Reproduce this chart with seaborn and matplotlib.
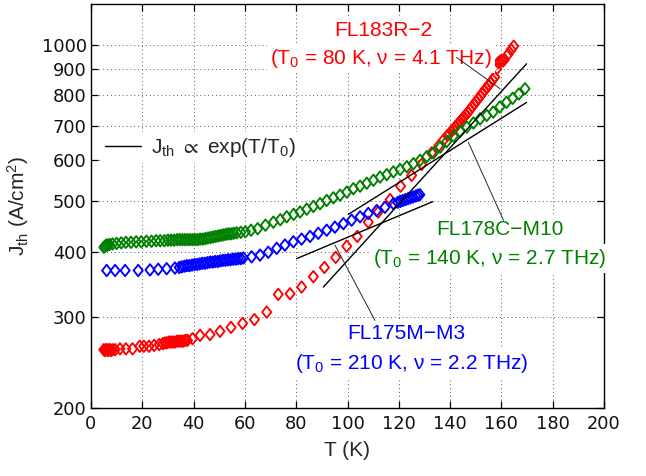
import matplotlib
matplotlib.use("Agg")
import matplotlib.pyplot as plt
from matplotlib.path import Path
from matplotlib.lines import Line2D
from matplotlib.ticker import NullLocator, FixedLocator
import numpy as np
import pandas as pd
import seaborn as sns

# ---- measured threshold current densities J_th (A/cm^2) vs heat-sink temperature T (K) ----
red_T = [5.0, 5.4, 5.8, 6.2, 6.6, 7.0, 7.4, 7.8, 8.4, 9.4,
         11.3, 13.6, 16.2,
         19.0, 20.6, 22.6, 24.6, 26.6,
         28.0, 28.8, 29.6, 30.4, 31.2, 32.0, 32.8, 33.6, 34.4, 35.2, 36.0, 36.8, 37.6,
         39.6, 42.5, 46.4, 50.3, 54.6, 59.1, 63.7, 68.5, 73.0, 77.6,
         82.1, 86.7, 91.0, 95.4, 99.7, 103.8, 108.1, 112.0, 116.6, 120.7,
         125.0, 128.9, 132.8, 135.6, 137.4, 139.0,
         139.8, 140.6, 141.4, 142.2, 143.0, 143.8, 144.6, 145.4, 146.2, 147.0,
         147.8, 148.6, 149.4, 150.2, 151.0, 151.8, 152.6, 153.4, 154.2, 155.0,
         155.8, 156.6, 157.4, 158.2, 158.8, 159.4, 160.0, 160.6, 161.2,
         162.6, 163.8, 164.8]
red_J = [259, 258, 259, 259, 258, 259, 259, 258, 259, 259,
         260, 260, 260,
         263, 263, 263, 264, 265,
         266, 267, 267, 268, 268, 268, 268, 269, 269, 269, 269, 270, 270,
         272, 276, 277, 281, 286, 291, 296, 306, 331, 332,
         342, 358, 373, 390, 410, 428, 456, 477, 504, 535,
         561, 589, 620, 640, 656, 670,
         676, 683, 690, 697, 705, 712, 720, 727, 735, 742,
         752, 761, 770, 779, 789, 798, 808, 818, 827, 837,
         847, 857, 868, 900, 925, 930, 935, 932, 938,
         960, 980, 995]

green_T = [5.0, 5.5, 6.0, 6.5, 7.2, 8.4, 10.0, 11.8, 13.6, 15.6,
           17.6, 19.6, 21.6, 23.6, 25.4, 27.0, 28.6, 30.0, 31.2, 32.4,
           33.6, 34.6, 35.6, 36.6, 37.6, 38.6, 39.6, 40.6, 41.6, 42.6,
           43.6, 44.6, 45.6, 46.6, 47.6, 48.6, 49.6, 50.6, 51.6, 52.6,
           53.6, 54.6, 55.6, 56.8, 58.4, 60.2, 62.4, 65.0, 68.0, 71.1,
           73.8, 76.3, 79.0, 81.5, 84.1, 86.7, 89.3, 91.9, 94.5, 97.1,
           99.7, 102.3, 104.9, 107.5, 110.1, 112.7, 115.3, 117.9, 120.5, 123.1,
           125.7, 128.3, 130.9, 133.5, 136.1, 138.7, 141.3, 143.9, 146.5, 149.1,
           151.7, 154.3, 156.8, 159.4, 162.0, 164.4, 166.8, 169.2]
green_J = [408, 410, 412, 412, 413, 414, 415, 416, 417, 417,
           418, 418, 419, 419, 420, 420, 420, 421, 421, 421,
           422, 422, 422, 422, 422, 422, 422, 422, 422, 423,
           423, 424, 425, 426, 427, 428, 429, 430, 431, 432,
           433, 433, 434, 435, 436, 437, 440, 443, 450, 456,
           461, 467, 472, 477, 483, 489, 495, 502, 508, 514,
           521, 529, 535, 542, 549, 557, 563, 570, 576, 583,
           591, 600, 610, 620, 636, 652, 668, 682, 695, 708,
           721, 732, 743, 760, 776, 790, 805, 824]

blue_T = [6.1, 9.4, 13.3, 18.4, 23.0, 26.2, 29.5, 32.7, 34.4, 35.4,
          36.4, 37.4, 38.4, 39.4, 40.4, 41.4, 42.4, 43.4, 44.4, 45.4,
          46.4, 47.4, 48.4, 49.4, 50.4, 51.4, 52.4, 53.4, 54.4, 55.4,
          56.4, 57.4, 58.4, 59.4, 62.6, 65.9, 69.1, 72.4, 75.6, 78.9,
          82.1, 85.4, 88.6, 91.9, 95.1, 98.4, 101.6, 104.9, 108.1, 111.4,
          114.6, 117.9, 119.6, 120.6, 121.6, 122.6, 123.6, 124.6, 125.6, 126.6,
          127.4, 128.2]
blue_J = [368, 368, 368, 368, 369, 370, 371, 372, 373, 374,
          375, 376, 376, 377, 378, 378, 379, 380, 380, 381,
          382, 382, 383, 383, 384, 385, 385, 386, 386, 387,
          387, 388, 388, 389, 391, 394, 399, 406, 412, 418,
          423, 428, 434, 440, 446, 453, 460, 467, 474, 480,
          487, 495, 498, 500, 502, 504, 506, 508, 510, 512,
          514, 515]

# ---- exponential fits J_th = J1 * exp((T - T1) / T0) ----
fit_T0 = [80, 140, 210]
fit_T_start = [90.6, 100.3, 80.2]
fit_T_end = [169.8, 169.8, 133.2]
fit_J_start = [342, 472, 388]

devices = ["FL183R\u22122", "FL178C\u2212M10", "FL175M\u2212M3"]
freqs_THz = [4.1, 2.7, 2.2]
colors = ["#ff0000", "#008000", "#0000ff"]

sns.set_style("ticks")
plt.rcParams["font.family"] = ["Liberation Sans", "DejaVu Sans"]
plt.rcParams["mathtext.fontset"] = "custom"
plt.rcParams["mathtext.rm"] = "Liberation Sans"
plt.rcParams["mathtext.it"] = "Liberation Sans:italic"
plt.rcParams["mathtext.bf"] = "Liberation Sans:bold"
plt.rcParams["mathtext.fallback"] = "stixsans"

fig = plt.figure(figsize=(6.46, 4.76), dpi=100)
ax = fig.add_axes([91 / 646, 1 - 408 / 476, 513 / 646, 404 / 476])

diamond = Path([(0, 1), (0.8, 0), (0, -1), (-0.8, 0), (0, 1)],
               [Path.MOVETO, Path.LINETO, Path.LINETO, Path.LINETO, Path.CLOSEPOLY])

frames = [
    pd.DataFrame({"T": red_T, "J": red_J, "device": devices[0]}),
    pd.DataFrame({"T": green_T, "J": green_J, "device": devices[1]}),
    pd.DataFrame({"T": blue_T, "J": blue_J, "device": devices[2]}),
]
for df, col in zip(frames, colors):
    sns.scatterplot(data=df, x="T", y="J", ax=ax, marker=diamond, s=68,
                    facecolor="none", edgecolor=col, linewidth=1.35,
                    zorder=3, legend=False)

# fitted exponential lines
for T0, t1, t2, j1 in zip(fit_T0, fit_T_start, fit_T_end, fit_J_start):
    tt = np.linspace(t1, t2, 50)
    ax.plot(tt, j1 * np.exp((tt - t1) / T0), color="black", lw=1.0, zorder=3.5)

ax.set_yscale("log")
ax.set_xlim(0, 200)
ax.set_ylim(200, 1200)
yt = [200, 300, 400, 500, 600, 700, 800, 900, 1000]
ax.yaxis.set_major_locator(FixedLocator(yt))
ax.yaxis.set_minor_locator(NullLocator())
ax.set_yticklabels([str(v) for v in yt])
ax.set_xticks(range(0, 201, 20))
ax.xaxis.set_minor_locator(NullLocator())

ax.grid(True, which="major", linestyle=(0, (1, 3)), color="0.35", linewidth=0.7)
ax.set_axisbelow(True)
for sp in ax.spines.values():
    sp.set_visible(True)
    sp.set_color("black")
    sp.set_linewidth(1.0)
ax.tick_params(which="both", direction="in", top=True, right=True, length=5,
               width=0.9, color="black")
ax.tick_params(axis="y", pad=3)
ax.tick_params(axis="x", pad=5)
for lab in ax.get_xticklabels() + ax.get_yticklabels():
    lab.set_fontfamily(["DejaVu Sans"])
    lab.set_fontsize(12.8)
    lab.set_color("#111111")

ax.set_xlabel("T (K)", fontsize=15, labelpad=6)
ax.set_ylabel(r"J$_{\mathrm{th}}$ (A/cm$^2$)", fontsize=15, labelpad=8)

box = dict(boxstyle="square,pad=0.15", fc="white", ec="none")
label_lines = [
    (devices[0], 113.8, 1043, r"(T$_0$ = 80 K, ν = 4.1 THz)", 112.9, 921),
    (devices[1], 159.6, 430, r"(T$_0$ = 140 K, ν = 2.7 THz)", 155.4, 379),
    (devices[2], 122.8, 271, r"(T$_0$ = 210 K, ν = 2.2 THz)", 125.1, 237.4),
]
for (name, x1, y1, line2, x2, y2), col in zip(label_lines, colors):
    ax.text(x1, y1, name, ha="center", va="baseline", color=col, fontsize=15,
            bbox=box, zorder=4)
    ax.text(x2, y2, line2, ha="center", va="baseline", color=col, fontsize=15,
            bbox=box, zorder=4)

# leader lines from each label to its fit
leaders = [((142.5, 159.5), (947, 824)),
           ((147.1, 160.8), (650, 460)),
           ((95.1, 110.7), (412, 295))]
for xs, ys in leaders:
    ax.plot(xs, ys, color="0.15", lw=0.7, zorder=6)

handle = Line2D([], [], color="black", lw=1.0)
ax.legend([handle], [r"J$_{\mathrm{th}}$ $\propto$ exp(T/T$_0$)"], loc="center left",
          bbox_to_anchor=(0.019, 0.645), frameon=True, fancybox=False,
          edgecolor="none", facecolor="white", framealpha=1.0,
          handlelength=1.75, handletextpad=0.45, borderpad=0.2,
          borderaxespad=0, fontsize=15)

fig.savefig("out.png", dpi=100)
